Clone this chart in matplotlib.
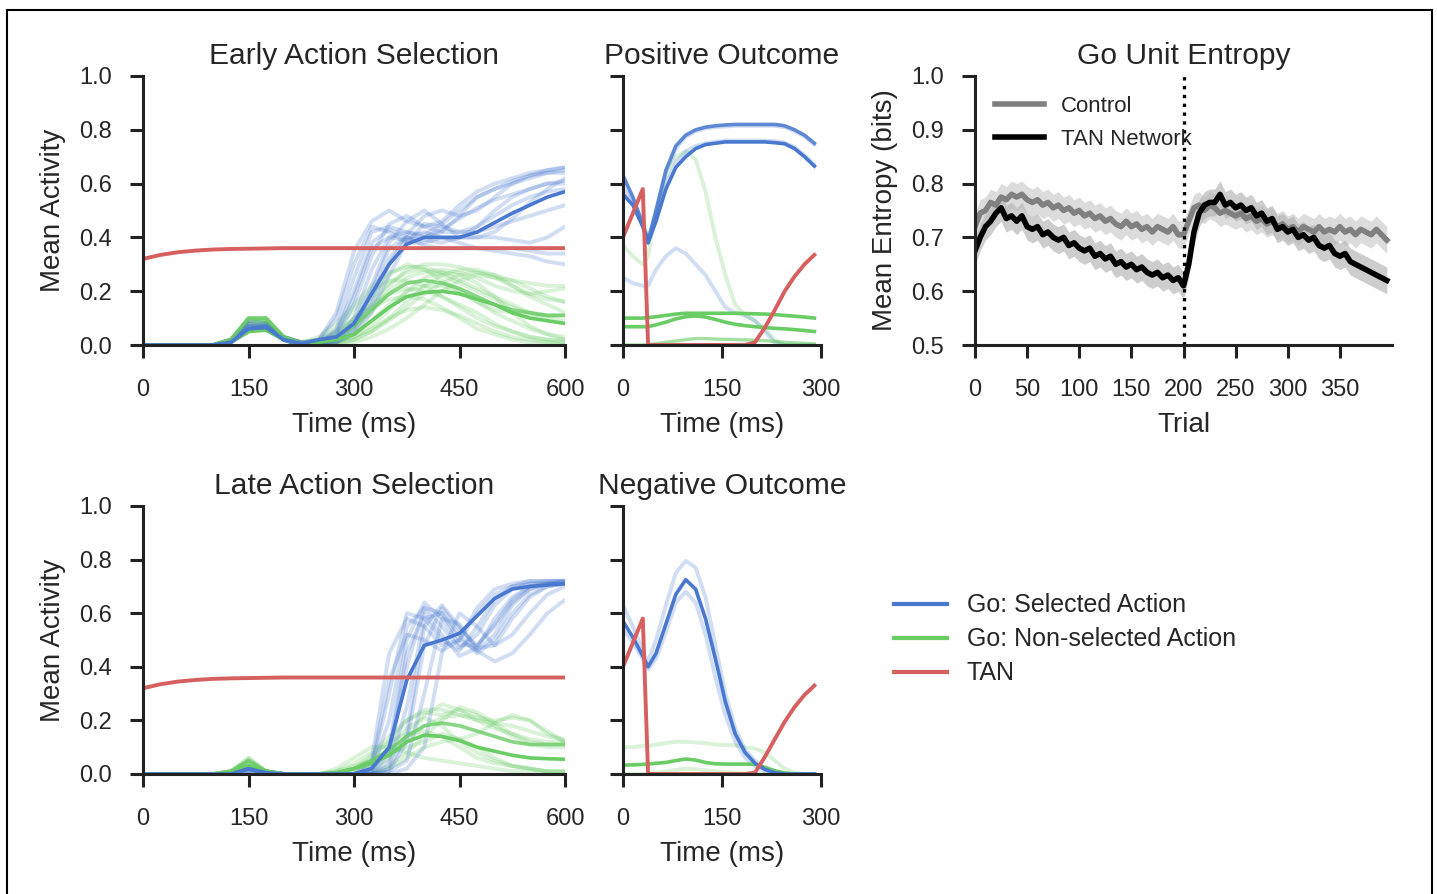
import matplotlib
matplotlib.use("Agg")
import matplotlib.pyplot as plt
from matplotlib.lines import Line2D
from matplotlib.patches import Rectangle

plt.rcParams['font.family'] = ['Liberation Sans', 'DejaVu Sans']
plt.rcParams['text.color'] = '#262626'
plt.rcParams['axes.labelcolor'] = '#262626'
plt.rcParams['xtick.color'] = '#262626'
plt.rcParams['ytick.color'] = '#262626'

# colours (seaborn "muted")
BLUE = '#4878CF'
GREEN = '#6ACC65'
RED = '#D65F5F'

# ---------------- data ----------------
# action selection panels, time in ms
t_act = [0, 25, 50, 75, 100, 125, 150, 175, 200, 225, 250, 275, 300, 325, 350,
         375, 400, 425, 450, 475, 500, 525, 550, 575, 600]

tan_act = [0.32, 0.335, 0.345, 0.351, 0.355, 0.357, 0.358, 0.359, 0.36, 0.36, 0.36, 0.36, 0.36,
           0.36, 0.36, 0.36, 0.36, 0.36, 0.36, 0.36, 0.36, 0.36, 0.36, 0.36, 0.36]

early_sel_mean = [0, 0, 0, 0, 0, 0.01, 0.06, 0.065, 0.02, 0.005, 0.02, 0.03, 0.08, 0.19, 0.30,
                  0.375, 0.40, 0.40, 0.40, 0.42, 0.455, 0.49, 0.52, 0.55, 0.57]
early_sel_trials = [
    [0, 0, 0, 0, 0, 0.01, 0.07, 0.07, 0.02, 0.01, 0.02, 0.12, 0.35, 0.46, 0.50, 0.46, 0.44, 0.46, 0.52, 0.57, 0.60, 0.62, 0.64, 0.65, 0.66],
    [0, 0, 0, 0, 0, 0.01, 0.06, 0.08, 0.02, 0.0, 0.01, 0.06, 0.25, 0.42, 0.44, 0.42, 0.41, 0.45, 0.50, 0.55, 0.58, 0.60, 0.62, 0.64, 0.65],
    [0, 0, 0, 0, 0, 0.01, 0.05, 0.06, 0.02, 0.0, 0.01, 0.03, 0.15, 0.33, 0.45, 0.48, 0.44, 0.42, 0.42, 0.44, 0.50, 0.55, 0.58, 0.60, 0.61],
    [0, 0, 0, 0, 0, 0.02, 0.08, 0.07, 0.03, 0.01, 0.0, 0.02, 0.08, 0.22, 0.38, 0.46, 0.50, 0.45, 0.40, 0.40, 0.42, 0.47, 0.53, 0.58, 0.62],
    [0, 0, 0, 0, 0, 0.01, 0.06, 0.07, 0.02, 0.0, 0.0, 0.01, 0.05, 0.15, 0.30, 0.40, 0.42, 0.40, 0.38, 0.36, 0.35, 0.34, 0.33, 0.31, 0.30],
    [0, 0, 0, 0, 0, 0.01, 0.07, 0.06, 0.02, 0.0, 0.01, 0.05, 0.20, 0.38, 0.43, 0.40, 0.37, 0.36, 0.36, 0.36, 0.36, 0.36, 0.35, 0.34, 0.34],
    [0, 0, 0, 0, 0, 0.01, 0.05, 0.07, 0.03, 0.01, 0.0, 0.02, 0.10, 0.28, 0.40, 0.42, 0.40, 0.42, 0.48, 0.55, 0.58, 0.61, 0.63, 0.64, 0.64],
    [0, 0, 0, 0, 0, 0.02, 0.09, 0.08, 0.02, 0.0, 0.0, 0.01, 0.04, 0.12, 0.26, 0.38, 0.45, 0.44, 0.42, 0.42, 0.44, 0.46, 0.48, 0.50, 0.52],
    [0, 0, 0, 0, 0, 0.01, 0.06, 0.06, 0.02, 0.0, 0.02, 0.10, 0.30, 0.44, 0.42, 0.38, 0.38, 0.40, 0.40, 0.40, 0.40, 0.39, 0.38, 0.40, 0.44],
    [0, 0, 0, 0, 0, 0.01, 0.07, 0.07, 0.02, 0.0, 0.0, 0.02, 0.07, 0.18, 0.32, 0.41, 0.48, 0.50, 0.48, 0.50, 0.55, 0.60, 0.63, 0.65, 0.66],
    [0, 0, 0, 0, 0, 0.01, 0.06, 0.07, 0.02, 0.0, 0.0, 0.01, 0.06, 0.20, 0.36, 0.40, 0.39, 0.38, 0.40, 0.44, 0.48, 0.52, 0.55, 0.57, 0.58],
    [0, 0, 0, 0, 0, 0.01, 0.08, 0.06, 0.02, 0.0, 0.01, 0.04, 0.18, 0.36, 0.40, 0.39, 0.40, 0.43, 0.47, 0.51, 0.54, 0.56, 0.58, 0.60, 0.60],
]
early_non_mean = [0, 0, 0, 0, 0, 0.01, 0.05, 0.055, 0.02, 0.005, 0.01, 0.02, 0.04, 0.09, 0.14,
                  0.18, 0.195, 0.20, 0.19, 0.17, 0.15, 0.12, 0.10, 0.09, 0.08]
early_non_mean2 = [0, 0, 0, 0, 0, 0.02, 0.10, 0.10, 0.03, 0.005, 0.01, 0.03, 0.07, 0.13, 0.19,
                   0.23, 0.24, 0.23, 0.21, 0.18, 0.15, 0.13, 0.12, 0.11, 0.11]
early_non_trials = [
    [0, 0, 0, 0, 0, 0.02, 0.09, 0.09, 0.03, 0.01, 0.03, 0.08, 0.15, 0.22, 0.27, 0.29, 0.29, 0.27, 0.24, 0.21, 0.18, 0.15, 0.12, 0.10, 0.09],
    [0, 0, 0, 0, 0, 0.02, 0.10, 0.10, 0.03, 0.0, 0.01, 0.03, 0.07, 0.14, 0.22, 0.28, 0.30, 0.30, 0.29, 0.27, 0.25, 0.24, 0.23, 0.22, 0.22],
    [0, 0, 0, 0, 0, 0.01, 0.07, 0.08, 0.02, 0.0, 0.0, 0.01, 0.03, 0.07, 0.13, 0.20, 0.25, 0.27, 0.26, 0.23, 0.18, 0.12, 0.07, 0.04, 0.02],
    [0, 0, 0, 0, 0, 0.02, 0.10, 0.09, 0.03, 0.01, 0.02, 0.06, 0.13, 0.20, 0.24, 0.24, 0.22, 0.18, 0.14, 0.10, 0.07, 0.05, 0.03, 0.02, 0.01],
    [0, 0, 0, 0, 0, 0.01, 0.08, 0.09, 0.02, 0.0, 0.0, 0.01, 0.02, 0.05, 0.10, 0.16, 0.22, 0.26, 0.28, 0.28, 0.26, 0.22, 0.18, 0.15, 0.12],
    [0, 0, 0, 0, 0, 0.02, 0.10, 0.10, 0.03, 0.01, 0.01, 0.04, 0.10, 0.18, 0.26, 0.30, 0.28, 0.24, 0.20, 0.16, 0.13, 0.12, 0.11, 0.11, 0.11],
    [0, 0, 0, 0, 0, 0.01, 0.06, 0.07, 0.02, 0.0, 0.0, 0.0, 0.01, 0.03, 0.06, 0.10, 0.15, 0.20, 0.24, 0.26, 0.25, 0.22, 0.19, 0.17, 0.16],
    [0, 0, 0, 0, 0, 0.02, 0.09, 0.08, 0.03, 0.01, 0.02, 0.05, 0.10, 0.14, 0.17, 0.18, 0.17, 0.14, 0.10, 0.06, 0.04, 0.02, 0.01, 0.01, 0.0],
    [0, 0, 0, 0, 0, 0.01, 0.08, 0.09, 0.02, 0.0, 0.0, 0.02, 0.06, 0.12, 0.20, 0.25, 0.27, 0.28, 0.27, 0.25, 0.22, 0.20, 0.19, 0.20, 0.21],
    [0, 0, 0, 0, 0, 0.01, 0.07, 0.08, 0.02, 0.0, 0.0, 0.01, 0.04, 0.09, 0.15, 0.20, 0.22, 0.22, 0.20, 0.16, 0.12, 0.09, 0.06, 0.04, 0.03],
    [0, 0, 0, 0, 0, 0.02, 0.09, 0.10, 0.03, 0.01, 0.01, 0.03, 0.08, 0.16, 0.23, 0.27, 0.28, 0.26, 0.23, 0.20, 0.17, 0.14, 0.12, 0.11, 0.11],
    [0, 0, 0, 0, 0, 0.01, 0.06, 0.07, 0.02, 0.0, 0.0, 0.0, 0.02, 0.05, 0.09, 0.14, 0.19, 0.23, 0.26, 0.27, 0.26, 0.24, 0.21, 0.18, 0.16],
    [0, 0, 0, 0, 0, 0.01, 0.07, 0.08, 0.02, 0.0, 0.0, 0.01, 0.03, 0.06, 0.10, 0.13, 0.14, 0.13, 0.11, 0.08, 0.05, 0.03, 0.02, 0.01, 0.01],
    [0, 0, 0, 0, 0, 0.02, 0.09, 0.09, 0.03, 0.0, 0.01, 0.04, 0.09, 0.15, 0.19, 0.21, 0.20, 0.18, 0.15, 0.12, 0.08, 0.05, 0.03, 0.02, 0.02],
]

late_sel_mean = [0, 0, 0, 0, 0, 0.0, 0.02, 0.005, 0, 0, 0, 0, 0.0, 0.02, 0.10, 0.35, 0.48,
                 0.50, 0.525, 0.59, 0.655, 0.69, 0.70, 0.705, 0.71]
late_sel_trials = [
    [0, 0, 0, 0, 0, 0, 0.02, 0.01, 0, 0, 0, 0, 0.0, 0.05, 0.45, 0.58, 0.55, 0.48, 0.50, 0.62, 0.69, 0.71, 0.72, 0.72, 0.72],
    [0, 0, 0, 0, 0, 0, 0.02, 0.0, 0, 0, 0, 0, 0.0, 0.01, 0.20, 0.55, 0.62, 0.55, 0.47, 0.52, 0.63, 0.69, 0.71, 0.72, 0.72],
    [0, 0, 0, 0, 0, 0, 0.01, 0.0, 0, 0, 0, 0, 0.0, 0.0, 0.05, 0.40, 0.62, 0.60, 0.50, 0.46, 0.52, 0.63, 0.69, 0.71, 0.71],
    [0, 0, 0, 0, 0, 0, 0.02, 0.01, 0, 0, 0, 0, 0.0, 0.0, 0.02, 0.15, 0.55, 0.63, 0.55, 0.47, 0.48, 0.58, 0.66, 0.70, 0.71],
    [0, 0, 0, 0, 0, 0, 0.01, 0.0, 0, 0, 0, 0, 0.0, 0.0, 0.01, 0.05, 0.30, 0.58, 0.56, 0.46, 0.42, 0.45, 0.52, 0.60, 0.65],
    [0, 0, 0, 0, 0, 0, 0.02, 0.0, 0, 0, 0, 0, 0.0, 0.03, 0.35, 0.52, 0.50, 0.46, 0.50, 0.60, 0.67, 0.70, 0.71, 0.71, 0.71],
    [0, 0, 0, 0, 0, 0, 0.02, 0.01, 0, 0, 0, 0, 0.0, 0.01, 0.10, 0.50, 0.64, 0.58, 0.48, 0.48, 0.56, 0.65, 0.70, 0.71, 0.72],
    [0, 0, 0, 0, 0, 0, 0.01, 0.0, 0, 0, 0, 0, 0.0, 0.0, 0.03, 0.25, 0.58, 0.60, 0.52, 0.45, 0.50, 0.60, 0.67, 0.70, 0.71],
    [0, 0, 0, 0, 0, 0, 0.02, 0.0, 0, 0, 0, 0, 0.0, 0.0, 0.0, 0.02, 0.10, 0.45, 0.60, 0.55, 0.48, 0.52, 0.60, 0.67, 0.70],
    [0, 0, 0, 0, 0, 0, 0.02, 0.01, 0, 0, 0, 0, 0.0, 0.02, 0.30, 0.60, 0.58, 0.50, 0.46, 0.55, 0.65, 0.70, 0.72, 0.72, 0.72],
    [0, 0, 0, 0, 0, 0, 0.01, 0.0, 0, 0, 0, 0, 0.0, 0.0, 0.08, 0.45, 0.60, 0.52, 0.44, 0.47, 0.58, 0.66, 0.70, 0.71, 0.71],
    [0, 0, 0, 0, 0, 0, 0.02, 0.0, 0, 0, 0, 0, 0.0, 0.0, 0.01, 0.12, 0.48, 0.62, 0.54, 0.48, 0.55, 0.64, 0.69, 0.71, 0.72],
]
late_non_mean = [0, 0, 0, 0, 0, 0.005, 0.03, 0.01, 0, 0, 0, 0.005, 0.02, 0.04, 0.07, 0.12,
                 0.145, 0.14, 0.125, 0.10, 0.085, 0.07, 0.06, 0.057, 0.055]
late_non_mean2 = [0, 0, 0, 0, 0, 0.01, 0.05, 0.01, 0, 0, 0, 0.005, 0.02, 0.05, 0.09, 0.14,
                  0.18, 0.19, 0.18, 0.16, 0.14, 0.12, 0.11, 0.11, 0.11]
late_non_trials = [
    [0, 0, 0, 0, 0, 0.01, 0.05, 0.01, 0, 0, 0, 0.01, 0.04, 0.08, 0.14, 0.20, 0.24, 0.24, 0.22, 0.20, 0.19, 0.18, 0.16, 0.14, 0.13],
    [0, 0, 0, 0, 0, 0.01, 0.04, 0.01, 0, 0, 0, 0.0, 0.02, 0.06, 0.12, 0.20, 0.23, 0.22, 0.24, 0.22, 0.18, 0.14, 0.11, 0.10, 0.10],
    [0, 0, 0, 0, 0, 0.0, 0.03, 0.0, 0, 0, 0, 0.0, 0.0, 0.02, 0.06, 0.12, 0.18, 0.21, 0.22, 0.21, 0.20, 0.21, 0.20, 0.16, 0.12],
    [0, 0, 0, 0, 0, 0.01, 0.06, 0.01, 0, 0, 0, 0.02, 0.06, 0.10, 0.10, 0.08, 0.06, 0.05, 0.04, 0.03, 0.02, 0.01, 0.01, 0.0, 0.0],
    [0, 0, 0, 0, 0, 0.0, 0.04, 0.01, 0, 0, 0, 0.0, 0.01, 0.04, 0.10, 0.17, 0.21, 0.18, 0.12, 0.08, 0.05, 0.03, 0.02, 0.01, 0.01],
    [0, 0, 0, 0, 0, 0.01, 0.05, 0.01, 0, 0, 0, 0.0, 0.0, 0.01, 0.03, 0.08, 0.14, 0.20, 0.25, 0.23, 0.19, 0.15, 0.12, 0.11, 0.11],
    [0, 0, 0, 0, 0, 0.0, 0.03, 0.0, 0, 0, 0, 0.0, 0.02, 0.07, 0.12, 0.15, 0.16, 0.14, 0.10, 0.06, 0.04, 0.03, 0.02, 0.01, 0.01],
    [0, 0, 0, 0, 0, 0.01, 0.06, 0.01, 0, 0, 0, 0.0, 0.0, 0.03, 0.08, 0.14, 0.22, 0.26, 0.24, 0.20, 0.17, 0.15, 0.13, 0.12, 0.12],
    [0, 0, 0, 0, 0, 0.0, 0.03, 0.0, 0, 0, 0, 0.0, 0.0, 0.0, 0.02, 0.06, 0.10, 0.12, 0.13, 0.15, 0.19, 0.22, 0.20, 0.15, 0.12],
    [0, 0, 0, 0, 0, 0.01, 0.04, 0.01, 0, 0, 0, 0.01, 0.03, 0.05, 0.08, 0.10, 0.12, 0.15, 0.13, 0.10, 0.06, 0.03, 0.02, 0.01, 0.01],
]

# outcome panels, time in ms after feedback
t_out = [0, 15, 30, 38, 50, 65, 80, 95, 110, 125, 140, 155, 170, 185, 200, 215, 230, 245, 260, 275, 290]

pos_tan = [0.40, 0.49, 0.58, 0.0, 0.0, 0.0, 0.0, 0.0, 0.0, 0.0, 0.0, 0.0, 0.0, 0.0, 0.01, 0.065,
           0.13, 0.20, 0.255, 0.30, 0.335]
pos_sel_mean = [0.56, 0.52, 0.44, 0.38, 0.46, 0.58, 0.66, 0.70, 0.73, 0.745, 0.75, 0.755, 0.755,
                0.755, 0.755, 0.755, 0.752, 0.748, 0.73, 0.70, 0.665]
pos_sel_hi = [0.63, 0.55, 0.45, 0.39, 0.50, 0.65, 0.74, 0.78, 0.80, 0.81, 0.815, 0.818, 0.82, 0.82,
              0.82, 0.82, 0.82, 0.815, 0.80, 0.78, 0.75]
pos_sel_trials = [
    [0.62, 0.54, 0.44, 0.38, 0.49, 0.64, 0.73, 0.775, 0.795, 0.805, 0.81, 0.812, 0.815, 0.815, 0.815, 0.815, 0.815, 0.81, 0.795, 0.775, 0.745],
    [0.58, 0.53, 0.45, 0.39, 0.48, 0.60, 0.68, 0.72, 0.74, 0.75, 0.755, 0.76, 0.76, 0.76, 0.76, 0.76, 0.758, 0.752, 0.735, 0.705, 0.67],
    [0.25, 0.23, 0.22, 0.22, 0.28, 0.33, 0.36, 0.34, 0.30, 0.26, 0.20, 0.14, 0.12, 0.11, 0.09, 0.05, 0.01, 0.0, 0.0, 0.0, 0.0],
]
pos_non_means = [
    [0.10, 0.10, 0.10, 0.102, 0.105, 0.11, 0.115, 0.118, 0.118, 0.118, 0.118, 0.118, 0.118, 0.117, 0.116, 0.115, 0.113, 0.11, 0.107, 0.104, 0.10],
    [0.068, 0.068, 0.068, 0.068, 0.075, 0.085, 0.097, 0.105, 0.108, 0.104, 0.095, 0.085, 0.077, 0.072, 0.068, 0.065, 0.062, 0.06, 0.057, 0.054, 0.05],
]
pos_non_trials = [
    [0.37, 0.33, 0.30, 0.33, 0.50, 0.64, 0.70, 0.72, 0.69, 0.57, 0.40, 0.26, 0.15, 0.11, 0.09, 0.06, 0.02, 0.0, 0.0, 0.0, 0.0],
    [0.0, 0.0, 0.0, 0.002, 0.005, 0.01, 0.015, 0.02, 0.024, 0.024, 0.022, 0.021, 0.02, 0.019, 0.018, 0.016, 0.013, 0.01, 0.008, 0.006, 0.004],
]

neg_tan = [0.40, 0.49, 0.58, 0.0, 0.0, 0.0, 0.0, 0.0, 0.0, 0.0, 0.0, 0.0, 0.0, 0.0, 0.005, 0.064,
           0.13, 0.195, 0.25, 0.295, 0.33]
neg_sel_mean = [0.57, 0.51, 0.44, 0.40, 0.45, 0.56, 0.67, 0.725, 0.69, 0.58, 0.43, 0.27, 0.15, 0.08,
                0.04, 0.017, 0.005, 0.0, 0.0, 0.0, 0.0]
neg_sel_trials = [
    [0.63, 0.55, 0.46, 0.42, 0.50, 0.63, 0.75, 0.795, 0.77, 0.66, 0.48, 0.30, 0.17, 0.09, 0.05, 0.02, 0.005, 0.0, 0.0, 0.0, 0.0],
    [0.54, 0.49, 0.43, 0.39, 0.43, 0.53, 0.64, 0.68, 0.64, 0.52, 0.36, 0.22, 0.12, 0.06, 0.03, 0.01, 0.0, 0.0, 0.0, 0.0, 0.0],
]
neg_non_mean = [0.033, 0.034, 0.036, 0.037, 0.04, 0.043, 0.05, 0.056, 0.052, 0.043, 0.038, 0.037,
                0.037, 0.037, 0.036, 0.025, 0.012, 0.004, 0.0, 0.0, 0.0]
neg_non_trials = [
    [0.10, 0.10, 0.105, 0.105, 0.11, 0.115, 0.12, 0.12, 0.118, 0.115, 0.11, 0.108, 0.107, 0.10, 0.095, 0.08, 0.05, 0.02, 0.005, 0.0, 0.0],
    [0.0, 0.0, 0.0, 0.0, 0.005, 0.01, 0.015, 0.02, 0.018, 0.014, 0.01, 0.007, 0.005, 0.003, 0.002, 0.0, 0.0, 0.0, 0.0, 0.0, 0.0],
]

# entropy panel, one value every 5 trials
trials = list(range(0, 400, 5))
control_entropy = [
    0.72, 0.745, 0.75, 0.765, 0.76, 0.775, 0.77, 0.78, 0.775, 0.78,
    0.77, 0.765, 0.77, 0.76, 0.765, 0.755, 0.76, 0.75, 0.755, 0.745,
    0.75, 0.74, 0.745, 0.735, 0.74, 0.73, 0.735, 0.725, 0.72, 0.73,
    0.72, 0.725, 0.715, 0.72, 0.71, 0.72, 0.715, 0.71, 0.72, 0.705,
    0.705, 0.73, 0.755, 0.76, 0.75, 0.76, 0.755, 0.745, 0.75, 0.745,
    0.74, 0.745, 0.735, 0.74, 0.73, 0.735, 0.725, 0.73, 0.72, 0.725,
    0.715, 0.72, 0.71, 0.72, 0.715, 0.71, 0.72, 0.71, 0.715, 0.71,
    0.72, 0.71, 0.715, 0.705, 0.715, 0.71, 0.705, 0.715, 0.705, 0.695,
]
tan_entropy = [
    0.675, 0.70, 0.72, 0.73, 0.745, 0.755, 0.735, 0.74, 0.73, 0.74,
    0.72, 0.715, 0.72, 0.705, 0.71, 0.70, 0.695, 0.70, 0.685, 0.69,
    0.68, 0.675, 0.68, 0.665, 0.67, 0.66, 0.665, 0.65, 0.655, 0.645,
    0.65, 0.64, 0.645, 0.635, 0.63, 0.635, 0.625, 0.63, 0.62, 0.625,
    0.61, 0.65, 0.71, 0.745, 0.76, 0.765, 0.765, 0.78, 0.76, 0.765,
    0.755, 0.76, 0.75, 0.755, 0.74, 0.745, 0.73, 0.735, 0.715, 0.72,
    0.71, 0.715, 0.70, 0.705, 0.695, 0.70, 0.685, 0.68, 0.685, 0.67,
    0.665, 0.67, 0.655, 0.65, 0.645, 0.64, 0.635, 0.63, 0.625, 0.62,
]
entropy_sem = 0.025

# ---------------- figure ----------------
W, H = 1437, 894
fig = plt.figure(figsize=(W / 100, H / 100), dpi=100)


def px_axes(left, top, right, bottom):
    return fig.add_axes([left / W, 1 - bottom / H, (right - left) / W, (bottom - top) / H])


def style(ax):
    for s in ['top', 'right']:
        ax.spines[s].set_visible(False)
    for s in ['left', 'bottom']:
        ax.spines[s].set_linewidth(2.2)
        ax.spines[s].set_color('#222222')
    ax.tick_params(length=9.5, width=2.2, labelsize=17, color='#222222')
    ax.tick_params(axis='x', pad=15)
    ax.tick_params(axis='y', pad=13)


def draw_lines(ax, t, trials_list, color, alpha=0.25, lw=2.8):
    for tr in trials_list:
        ax.plot(t, tr, color=color, alpha=alpha, lw=lw, solid_capstyle='round')


ax_early = px_axes(143, 76, 565, 345)
ax_pos = px_axes(623, 76, 821, 345)
ax_ent = px_axes(975, 76, 1392, 345)
ax_late = px_axes(143, 506, 565, 774)
ax_neg = px_axes(623, 506, 821, 774)

# early action selection
draw_lines(ax_early, t_act, early_non_trials, GREEN)
draw_lines(ax_early, t_act, early_sel_trials, BLUE)
ax_early.plot(t_act, early_non_mean2, color=GREEN, lw=2.6, alpha=0.8)
ax_early.plot(t_act, early_non_mean, color=GREEN, lw=2.6)
ax_early.plot(t_act, early_sel_mean, color=BLUE, lw=2.6)
ax_early.plot(t_act, tan_act, color=RED, lw=2.8)

# late action selection
draw_lines(ax_late, t_act, late_non_trials, GREEN)
draw_lines(ax_late, t_act, late_sel_trials, BLUE)
ax_late.plot(t_act, late_non_mean2, color=GREEN, lw=2.6, alpha=0.8)
ax_late.plot(t_act, late_non_mean, color=GREEN, lw=2.6)
ax_late.plot(t_act, late_sel_mean, color=BLUE, lw=2.6)
ax_late.plot(t_act, tan_act, color=RED, lw=2.8)

for ax, title in [(ax_early, 'Early Action Selection'), (ax_late, 'Late Action Selection')]:
    style(ax)
    ax.set_xlim(0, 600)
    ax.set_ylim(0, 1.0)
    ax.set_xticks([0, 150, 300, 450, 600])
    ax.set_yticks([0.0, 0.2, 0.4, 0.6, 0.8, 1.0])
    ax.set_yticklabels(['0.0', '0.2', '0.4', '0.6', '0.8', '1.0'])
    ax.set_title(title, fontsize=21.6, pad=9)
    ax.set_xlabel('Time (ms)', fontsize=20, labelpad=8)
    ax.set_ylabel('Mean Activity', fontsize=20, labelpad=9)

# positive outcome
draw_lines(ax_pos, t_out, pos_non_trials[:1], GREEN)
draw_lines(ax_pos, t_out, pos_sel_trials, BLUE)
ax_pos.plot(t_out, pos_non_trials[1], color=GREEN, lw=2.4, alpha=0.6)
for tr in pos_non_means:
    ax_pos.plot(t_out, tr, color=GREEN, lw=2.6)
ax_pos.plot(t_out, pos_sel_hi, color=BLUE, lw=2.6, alpha=0.85)
ax_pos.plot(t_out, pos_sel_mean, color=BLUE, lw=2.6)
ax_pos.plot(t_out, pos_tan, color=RED, lw=2.8)

# negative outcome
draw_lines(ax_neg, t_out, neg_non_trials, GREEN)
draw_lines(ax_neg, t_out, neg_sel_trials, BLUE)
ax_neg.plot(t_out, neg_non_mean, color=GREEN, lw=2.6)
ax_neg.plot(t_out, neg_sel_mean, color=BLUE, lw=2.6)
ax_neg.plot(t_out, neg_tan, color=RED, lw=2.8)

for ax, title in [(ax_pos, 'Positive Outcome'), (ax_neg, 'Negative Outcome')]:
    style(ax)
    ax.set_xlim(0, 300)
    ax.set_ylim(0, 1.0)
    ax.set_xticks([0, 150, 300])
    ax.set_yticks([0.0, 0.2, 0.4, 0.6, 0.8, 1.0])
    ax.set_yticklabels([])
    ax.set_title(title, fontsize=21.6, pad=9)
    ax.set_xlabel('Time (ms)', fontsize=20, labelpad=8)

# entropy
ctrl_lo = [v - entropy_sem for v in control_entropy]
ctrl_hi = [v + entropy_sem for v in control_entropy]
tan_lo = [v - entropy_sem for v in tan_entropy]
tan_hi = [v + entropy_sem for v in tan_entropy]
ax_ent.fill_between(trials, ctrl_lo, ctrl_hi, color='#d4d4d4', alpha=0.8, lw=0)
ax_ent.fill_between(trials, tan_lo, tan_hi, color='#b8b8b8', alpha=0.7, lw=0)
ax_ent.plot(trials, control_entropy, color='#808080', lw=4, label='Control')
ax_ent.plot(trials, tan_entropy, color='black', lw=4, label='TAN Network')
ax_ent.axvline(200, color='black', ls=':', lw=2.4)
style(ax_ent)
ax_ent.set_xlim(0, 400)
ax_ent.set_ylim(0.5, 1.0)
ax_ent.set_xticks([0, 50, 100, 150, 200, 250, 300, 350])
ax_ent.set_yticks([0.5, 0.6, 0.7, 0.8, 0.9, 1.0])
ax_ent.set_yticklabels(['0.5', '0.6', '0.7', '0.8', '0.9', '1.0'])
ax_ent.set_title('Go Unit Entropy', fontsize=21.6, pad=9)
ax_ent.set_xlabel('Trial', fontsize=20, labelpad=8)
ax_ent.set_ylabel('Mean Entropy (bits)', fontsize=20, labelpad=9)
ax_ent.legend(loc='upper left', bbox_to_anchor=(0.0, 1.0), frameon=False, fontsize=16,
              handlelength=2.2, handletextpad=0.75, labelspacing=0.55)

# shared legend for the activity panels
handles = [Line2D([], [], color=BLUE, lw=3), Line2D([], [], color=GREEN, lw=3),
           Line2D([], [], color=RED, lw=3)]
fig.legend(handles, ['Go: Selected Action', 'Go: Non-selected Action', 'TAN'],
           loc='upper left', bbox_to_anchor=(872 / W, 1 - 571 / H), frameon=False,
           fontsize=18, handlelength=2.1, handletextpad=0.8, labelspacing=0.4)

# outer frame
fig.add_artist(Rectangle((7 / W, -0.02), (1432 - 7) / W, 1.02 - 10 / H, fill=False,
                         edgecolor='black', lw=1.5, transform=fig.transFigure, clip_on=False))

fig.savefig('out.png', dpi=100)
